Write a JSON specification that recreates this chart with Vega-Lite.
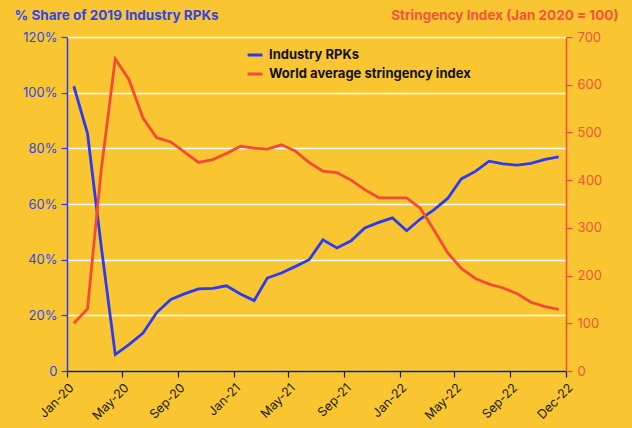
{
  "$schema": "https://vega.github.io/schema/vega-lite/v6.json",
  "autosize": {"type": "none"},
  "width": 499,
  "height": 334,
  "padding": {"left": 67, "top": 37, "right": 66, "bottom": 57},
  "background": "#F9C631",
  "config": {
    "view": {"stroke": null},
    "font": "Inter",
    "axis": {"labelFont": "Inter", "titleFont": "Inter"},
    "legend": {"labelFont": "Inter"}
  },
  "data": {
    "values": [
      {"month": "2020-01-16", "rpk": 102.3, "si": 100},
      {"month": "2020-02-15", "rpk": 85.4, "si": 130},
      {"month": "2020-03-16", "rpk": 45, "si": 420},
      {"month": "2020-04-16", "rpk": 5.9, "si": 654},
      {"month": "2020-05-16", "rpk": 9.5, "si": 611},
      {"month": "2020-06-16", "rpk": 13.6, "si": 530},
      {"month": "2020-07-16", "rpk": 21, "si": 489},
      {"month": "2020-08-16", "rpk": 25.7, "si": 480},
      {"month": "2020-09-16", "rpk": 27.8, "si": 458},
      {"month": "2020-10-16", "rpk": 29.5, "si": 437},
      {"month": "2020-11-16", "rpk": 29.7, "si": 443},
      {"month": "2020-12-16", "rpk": 30.6, "si": 456},
      {"month": "2021-01-16", "rpk": 27.7, "si": 471},
      {"month": "2021-02-15", "rpk": 25.3, "si": 467},
      {"month": "2021-03-16", "rpk": 33.4, "si": 465},
      {"month": "2021-04-16", "rpk": 35.2, "si": 474},
      {"month": "2021-05-16", "rpk": 37.5, "si": 461},
      {"month": "2021-06-16", "rpk": 40, "si": 437},
      {"month": "2021-07-16", "rpk": 47.1, "si": 419},
      {"month": "2021-08-16", "rpk": 44.2, "si": 416},
      {"month": "2021-09-16", "rpk": 46.8, "si": 400},
      {"month": "2021-10-16", "rpk": 51.4, "si": 380},
      {"month": "2021-11-16", "rpk": 53.4, "si": 363},
      {"month": "2021-12-16", "rpk": 55, "si": 363},
      {"month": "2022-01-16", "rpk": 50.4, "si": 363},
      {"month": "2022-02-15", "rpk": 54.6, "si": 341},
      {"month": "2022-03-16", "rpk": 57.8, "si": 297},
      {"month": "2022-04-16", "rpk": 62, "si": 248},
      {"month": "2022-05-16", "rpk": 69, "si": 215},
      {"month": "2022-06-16", "rpk": 71.7, "si": 194},
      {"month": "2022-07-16", "rpk": 75.4, "si": 182},
      {"month": "2022-08-16", "rpk": 74.4, "si": 174},
      {"month": "2022-09-16", "rpk": 74, "si": 162},
      {"month": "2022-10-16", "rpk": 74.6, "si": 144},
      {"month": "2022-11-16", "rpk": 76, "si": 135},
      {"month": "2022-12-16", "rpk": 76.9, "si": 129}
    ]
  },
  "encoding": {
    "x": {
      "field": "month",
      "type": "temporal",
      "scale": {"type": "utc", "domain": [{"year": 2020, "month": 1, "date": 1, "utc": true}, {"year": 2023, "month": 1, "date": 1, "utc": true}], "nice": false},
      "axis": {
        "title": null,
        "grid": false,
        "values": [
          {"year": 2020, "month": 1, "date": 1, "utc": true},
          {"year": 2020, "month": 5, "date": 1, "utc": true},
          {"year": 2020, "month": 9, "date": 1, "utc": true},
          {"year": 2021, "month": 1, "date": 1, "utc": true},
          {"year": 2021, "month": 5, "date": 1, "utc": true},
          {"year": 2021, "month": 9, "date": 1, "utc": true},
          {"year": 2022, "month": 1, "date": 1, "utc": true},
          {"year": 2022, "month": 5, "date": 1, "utc": true},
          {"year": 2022, "month": 9, "date": 1, "utc": true},
          {"year": 2023, "month": 1, "date": 1, "utc": true}
        ],
        "labelExpr": "utcyear(datum.value) == 2023 ? 'Dec-22' : utcFormat(datum.value, '%b-%y')",
        "labelAngle": -45,
        "labelFontSize": 12.5,
        "labelColor": "#1a1a1a",
        "labelPadding": 4,
        "domainColor": "#1a1a1a",
        "domainWidth": 1.5,
        "tickColor": "#1a1a1a",
        "tickSize": 6,
        "tickWidth": 1.2,
        "labelFlush": false,
        "labelOverlap": false
      }
    },
    "color": {
      "scale": {"domain": ["Industry RPKs", "World average stringency index"], "range": ["#2B3BF2", "#F54B36"]},
      "legend": {
        "title": null,
        "orient": "none",
        "legendX": 179,
        "legendY": 9,
        "symbolType": "stroke",
        "symbolStrokeWidth": 3,
        "symbolSize": 220,
        "labelFontSize": 13,
        "labelFontWeight": "bold",
        "labelColor": "#111111",
        "labelLimit": 400,
        "rowPadding": 3,
        "labelOffset": 5
      }
    }
  },
  "layer": [
    {
      "mark": {"type": "line", "strokeWidth": 2.8},
      "encoding": {
        "y": {
          "field": "rpk",
          "type": "quantitative",
          "scale": {"domain": [0, 120], "nice": false},
          "axis": {
            "orient": "left",
            "values": [0, 20, 40, 60, 80, 100, 120],
            "labelExpr": "datum.value == 0 ? '0' : datum.value + '%'",
            "title": "% Share of 2019 Industry RPKs",
            "titleAngle": 0,
            "titleX": -53,
            "titleY": -22,
            "titleAlign": "left",
            "titleBaseline": "middle",
            "titleFontSize": 13.5,
            "titleFontWeight": "bold",
            "titleColor": "#3245E8",
            "labelColor": "#3245E8",
            "labelFontSize": 13,
            "labelPadding": 4,
            "domainColor": "#2B3BF2",
            "domainWidth": 1.5,
            "tickColor": "#2B3BF2",
            "tickSize": 6,
            "tickWidth": 1.2,
            "grid": true,
            "gridColor": "#FFFFFF",
            "gridWidth": 1.5
          }
        },
        "color": {"datum": "Industry RPKs"}
      }
    },
    {
      "mark": {"type": "line", "strokeWidth": 2.8},
      "encoding": {
        "y": {
          "field": "si",
          "type": "quantitative",
          "scale": {"domain": [0, 700], "nice": false},
          "axis": {
            "orient": "right",
            "values": [0, 100, 200, 300, 400, 500, 600, 700],
            "title": "Stringency Index (Jan 2020 = 100)",
            "titleAngle": 0,
            "titleX": 52,
            "titleY": -22,
            "titleAlign": "right",
            "titleBaseline": "middle",
            "titleFontSize": 13.5,
            "titleFontWeight": "bold",
            "titleColor": "#F4553A",
            "labelColor": "#F4553A",
            "labelFontSize": 13,
            "labelPadding": 5,
            "domainColor": "#F54B36",
            "domainWidth": 1.5,
            "tickColor": "#F54B36",
            "tickSize": 6,
            "tickWidth": 1.2,
            "grid": false
          }
        },
        "color": {"datum": "World average stringency index"}
      }
    }
  ],
  "resolve": {"scale": {"y": "independent"}}
}
